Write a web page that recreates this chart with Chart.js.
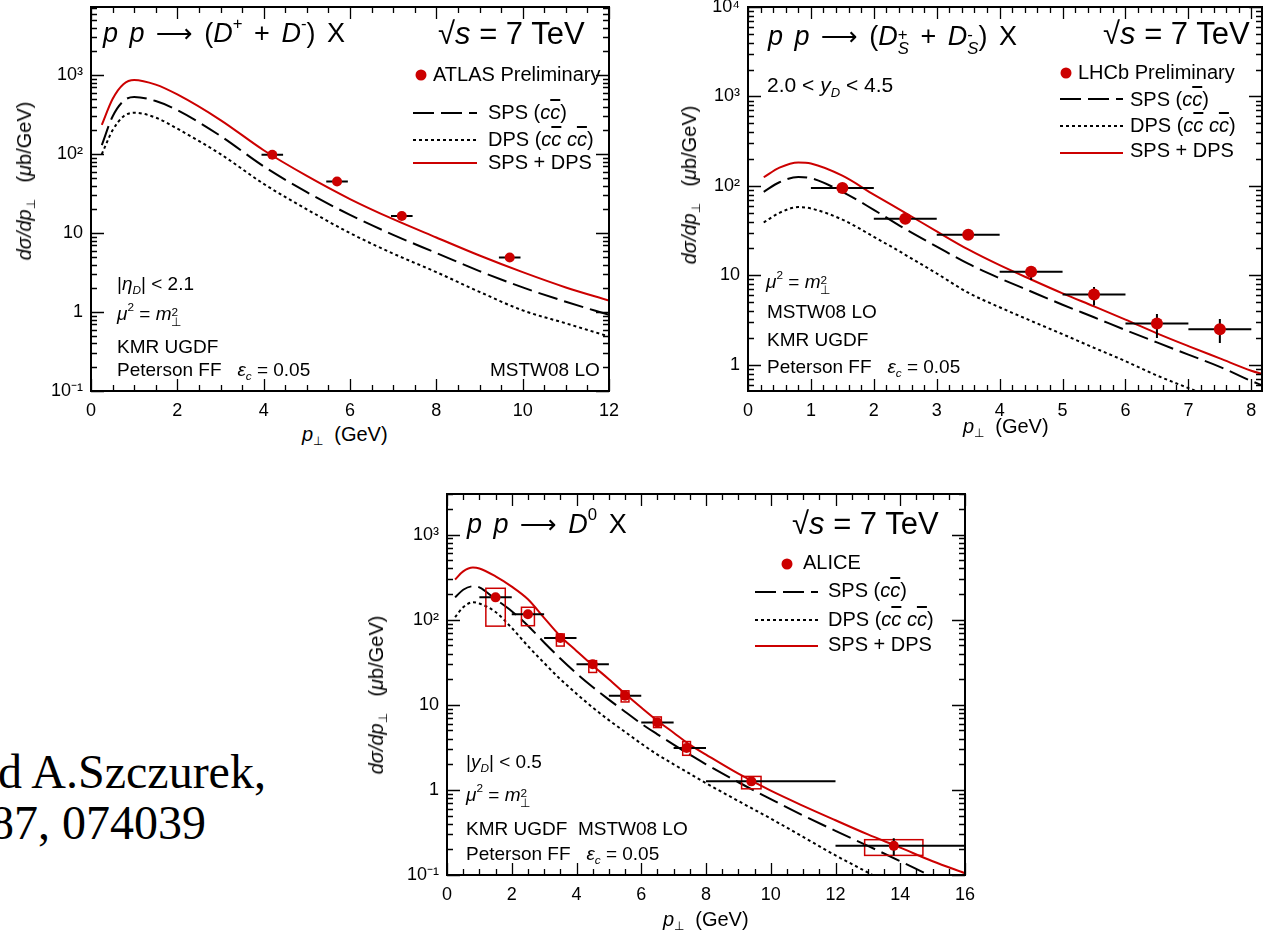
<!DOCTYPE html>
<html>
<head>
<meta charset="utf-8">
<script src="https://cdn.jsdelivr.net/npm/chart.js@4.4.1/dist/chart.umd.min.js"></script>
<style>
  body { margin: 0; background: #fff; width: 1268px; height: 940px; overflow: hidden; position: relative;
         font-family: "Liberation Sans", Arial, sans-serif; color: #000; }
  canvas { position: absolute; }
  .t { position: absolute; white-space: nowrap; line-height: 1; }
  .serif { font-family: "Liberation Serif", "Times New Roman", serif; font-size: 48px; }
  .ttl { font-size: 27px; word-spacing: 4px; }
  .arr { font-family: "DejaVu Sans", sans-serif; font-size: .95em; }
  .rs { font-size: 31px; }
  .lg { font-size: 20px; }
  .an { font-size: 19px; }
  .ax { font-size: 20px; }
  .yt { transform: translate(-50%, -50%) rotate(-90deg); font-size: 20px; }
  sup { font-size: .62em; vertical-align: .75em; line-height: 0; }
  sub { font-size: .62em; vertical-align: -.35em; line-height: 0; }
  .st { display: inline-block; font-size: .62em; line-height: .85; vertical-align: -.55em; }
  .st > span { display: block; }
  .ov { text-decoration: overline; }
  .dot { position: absolute; width: 11px; height: 11px; border-radius: 50%; background: #cc0000; transform: translate(-50%, -50%); }
  svg { position: absolute; }
</style>
</head>
<body>
<canvas id="cA" width="620" height="420" style="left:0;top:0"></canvas>
<canvas id="cL" width="608" height="420" style="left:660px;top:0"></canvas>
<canvas id="cC" width="620" height="460" style="left:360px;top:480px"></canvas>

<!-- panel 1: D+ + D- (ATLAS) -->
<div class="t ttl" style="left:103px;top:20px"><i>p p</i> <span class="arr">⟶</span> (<i>D</i><sup>+</sup> + <i>D</i><sup>-</sup>) X</div>
<div class="t rs" style="left:438px;top:18px">√<i>s</i> = 7 TeV</div>
<div class="dot" style="left:421px;top:75px"></div>
<div class="t lg" style="left:433px;top:64px">ATLAS Preliminary</div>
<svg style="left:413px;top:108px" width="64" height="10"><line x1="0" y1="5" x2="64" y2="5" stroke="#000" stroke-width="2" stroke-dasharray="21 7"/></svg>
<div class="t lg" style="left:488px;top:102px">SPS (<i>c<span class="ov">c</span></i>)</div>
<svg style="left:413px;top:135px" width="64" height="10"><line x1="0" y1="5" x2="64" y2="5" stroke="#000" stroke-width="2" stroke-dasharray="3 3"/></svg>
<div class="t lg" style="left:488px;top:129px">DPS (<i>c<span class="ov">c</span> c<span class="ov">c</span></i>)</div>
<svg style="left:413px;top:158px" width="64" height="10"><line x1="0" y1="5" x2="64" y2="5" stroke="#cc0000" stroke-width="2"/></svg>
<div class="t lg" style="left:488px;top:152px">SPS + DPS</div>
<div class="t an" style="left:117px;top:274px">|<i>η</i><sub><i>D</i></sub>| &lt; 2.1</div>
<div class="t an" style="left:117px;top:304px"><i>μ</i><sup>2</sup> = <i>m</i><span class="st"><span>2</span><span>⊥</span></span></div>
<div class="t an" style="left:117px;top:337px">KMR UGDF</div>
<div class="t an" style="left:117px;top:360px">Peterson FF &nbsp;&nbsp;<i>ε</i><sub><i>c</i></sub> = 0.05</div>
<div class="t an" style="left:490px;top:360px">MSTW08 LO</div>
<div class="t ax" style="left:302px;top:424px"><i>p</i><sub>⊥</sub>&nbsp; (GeV)</div>
<div class="t yt" style="left:24px;top:181px"><i>dσ/dp</i><sub>⊥</sub>&nbsp;&nbsp; (<i>μ</i>b/GeV)</div>

<!-- panel 2: Ds+ + Ds- (LHCb) -->
<div class="t ttl" style="left:768px;top:23px"><i>p p</i> <span class="arr">⟶</span> (<i>D</i><span class="st"><span>+</span><span><i>S</i></span></span> + <i>D</i><span class="st"><span>-</span><span><i>S</i></span></span>) X</div>
<div class="t rs" style="left:1103px;top:18px">√<i>s</i> = 7 TeV</div>
<div class="t" style="left:767px;top:74px;font-size:21px">2.0 &lt; <i>y</i><sub><i>D</i></sub> &lt; 4.5</div>
<div class="dot" style="left:1066px;top:73px"></div>
<div class="t lg" style="left:1078px;top:62px">LHCb Preliminary</div>
<svg style="left:1060px;top:94px" width="63" height="10"><line x1="0" y1="5" x2="63" y2="5" stroke="#000" stroke-width="2" stroke-dasharray="21 7"/></svg>
<div class="t lg" style="left:1130px;top:89px">SPS (<i>c<span class="ov">c</span></i>)</div>
<svg style="left:1060px;top:121px" width="63" height="10"><line x1="0" y1="5" x2="63" y2="5" stroke="#000" stroke-width="2" stroke-dasharray="3 3"/></svg>
<div class="t lg" style="left:1130px;top:115px">DPS (<i>c<span class="ov">c</span> c<span class="ov">c</span></i>)</div>
<svg style="left:1060px;top:148px" width="63" height="10"><line x1="0" y1="5" x2="63" y2="5" stroke="#cc0000" stroke-width="2"/></svg>
<div class="t lg" style="left:1130px;top:140px">SPS + DPS</div>
<div class="t an" style="left:766px;top:272px"><i>μ</i><sup>2</sup> = <i>m</i><span class="st"><span>2</span><span>⊥</span></span></div>
<div class="t an" style="left:767px;top:302px">MSTW08 LO</div>
<div class="t an" style="left:767px;top:330px">KMR UGDF</div>
<div class="t an" style="left:767px;top:357px">Peterson FF &nbsp;&nbsp;<i>ε</i><sub><i>c</i></sub> = 0.05</div>
<div class="t ax" style="left:963px;top:416px"><i>p</i><sub>⊥</sub>&nbsp; (GeV)</div>
<div class="t yt" style="left:689px;top:185px"><i>dσ/dp</i><sub>⊥</sub>&nbsp;&nbsp; (<i>μ</i>b/GeV)</div>

<!-- panel 3: D0 (ALICE) -->
<div class="t ttl" style="left:467px;top:511px"><i>p p</i> <span class="arr">⟶</span> <i>D</i><sup>0</sup> X</div>
<div class="t rs" style="left:792px;top:508px">√<i>s</i> = 7 TeV</div>
<div class="dot" style="left:787px;top:564px"></div>
<div class="t lg" style="left:803px;top:552px">ALICE</div>
<svg style="left:755px;top:587px" width="63" height="10"><line x1="0" y1="5" x2="63" y2="5" stroke="#000" stroke-width="2" stroke-dasharray="21 7"/></svg>
<div class="t lg" style="left:828px;top:580px">SPS (<i>c<span class="ov">c</span></i>)</div>
<svg style="left:755px;top:615px" width="63" height="10"><line x1="0" y1="5" x2="63" y2="5" stroke="#000" stroke-width="2" stroke-dasharray="3 3"/></svg>
<div class="t lg" style="left:828px;top:609px">DPS (<i>c<span class="ov">c</span> c<span class="ov">c</span></i>)</div>
<svg style="left:755px;top:641px" width="63" height="10"><line x1="0" y1="5" x2="63" y2="5" stroke="#cc0000" stroke-width="2"/></svg>
<div class="t lg" style="left:828px;top:634px">SPS + DPS</div>
<div class="t an" style="left:466px;top:752px">|<i>y</i><sub><i>D</i></sub>| &lt; 0.5</div>
<div class="t an" style="left:466px;top:785px"><i>μ</i><sup>2</sup> = <i>m</i><span class="st"><span>2</span><span>⊥</span></span></div>
<div class="t an" style="left:466px;top:819px">KMR UGDF &nbsp;MSTW08 LO</div>
<div class="t an" style="left:466px;top:844px">Peterson FF &nbsp;&nbsp;<i>ε</i><sub><i>c</i></sub> = 0.05</div>
<div class="t ax" style="left:663px;top:909px"><i>p</i><sub>⊥</sub>&nbsp; (GeV)</div>
<div class="t yt" style="left:376px;top:695px"><i>dσ/dp</i><sub>⊥</sub>&nbsp;&nbsp; (<i>μ</i>b/GeV)</div>

<!-- slide text cut at the left edge -->
<div class="t serif" style="left:-2px;top:748px">d A.Szczurek,</div>
<div class="t serif" style="left:-10px;top:799px">87, 074039</div>

<script>
// ---- panel 1: (D+ + D-), ATLAS, |eta| < 2.1 ----
const ptA  = [0.25, 0.5, 0.75, 1, 1.5, 2, 3, 4, 5, 6, 7, 8, 9, 10, 11, 12];
const sumA = [235, 500, 770, 870, 760, 570, 270, 112, 53, 27, 15, 8.8, 5.2, 3.2, 2.05, 1.4];
const spsA = [130, 300, 470, 530, 470, 360, 170, 70, 33, 17, 9.5, 5.6, 3.3, 2.05, 1.35, 0.92];
const dpsA = [100, 200, 300, 335, 290, 210, 100, 42, 20, 10, 5.5, 3.2, 1.8, 1.05, 0.72, 0.49];
const atlasX   = [4.2, 5.7, 7.2, 9.7];
const atlasY   = [98, 45, 16.5, 4.9];
const atlasXlo = [3.95, 5.45, 6.95, 9.45];
const atlasXhi = [4.45, 5.95, 7.45, 9.95];
const atlasYlo = [92, 43, 15.6, 4.6];
const atlasYhi = [104, 47, 17.4, 5.2];
const xTicksA = [0, 2, 4, 6, 8, 10, 12];
const yTicksA = [0.1, 1, 10, 100, 1000];
const yLabelsA = ['10⁻¹', '1', '10', '10²', '10³'];

// ---- panel 2: (Ds+ + Ds-), LHCb, 2.0 < y < 4.5 ----
const ptL  = [0.25, 0.5, 0.8, 1, 1.5, 2, 2.5, 3, 3.5, 4, 4.5, 5, 5.5, 6, 6.5, 7, 7.5, 8, 8.2];
const sumL = [125, 160, 183, 178, 130, 80, 50, 31, 19.5, 13, 9, 6.3, 4.5, 3.2, 2.25, 1.62, 1.18, 0.86, 0.78];
const spsL = [86, 110, 126, 122, 86, 54, 33, 21, 13.5, 9.3, 6.6, 4.7, 3.4, 2.45, 1.78, 1.3, 0.95, 0.66, 0.58];
const dpsL = [39, 50, 58, 56, 42, 27, 17, 10.5, 6.4, 4.4, 3.1, 2.2, 1.55, 1.1, 0.76, 0.55, 0.4, 0.28, 0.25];
const lhcbX   = [1.5, 2.5, 3.5, 4.5, 5.5, 6.5, 7.5];
const lhcbY   = [95, 43, 28.5, 11, 6.1, 2.9, 2.5];
const lhcbXlo = [1, 2, 3, 4, 5, 6, 7];
const lhcbXhi = [2, 3, 4, 5, 6, 7, 8];
const lhcbYlo = [91, 41, 27, 8.9, 4.6, 2.0, 1.76];
const lhcbYhi = [99, 45, 30, 12, 7.4, 3.7, 3.25];
const xTicksL = [0, 1, 2, 3, 4, 5, 6, 7, 8];
const yTicksL = [1, 10, 100, 1000, 10000];
const yLabelsL = ['1', '10', '10²', '10³', '10⁴'];

// ---- panel 3: D0, ALICE, |y| < 0.5 ----
const ptC  = [0.25, 0.5, 0.8, 1, 1.5, 2, 2.5, 3, 3.5, 4, 4.5, 5, 5.5, 6, 6.5, 7, 7.5, 8, 9, 10, 11, 12, 13, 14, 15, 16];
const sumC = [297, 370, 410, 400, 323, 245, 174, 105, 64, 43, 29, 20, 13.5, 9.3, 6.5, 4.7, 3.4, 2.6, 1.55, 0.98, 0.65, 0.44, 0.30, 0.21, 0.145, 0.105];
const spsC = [183, 225, 247, 240, 174, 126, 85, 54, 35, 23.4, 16.2, 11.5, 8.3, 6.0, 4.5, 3.4, 2.6, 2.0, 1.23, 0.78, 0.5, 0.33, 0.22, 0.145, 0.095, 0.063];
const dpsC = [107, 140, 160, 155, 123, 80, 49, 31, 20, 13.5, 9.3, 6.6, 4.8, 3.5, 2.6, 2.0, 1.55, 1.2, 0.74, 0.46, 0.28, 0.17, 0.107, 0.066, 0.042, 0.027];
const aliceX   = [1.5, 2.5, 3.5, 4.5, 5.5, 6.5, 7.4, 9.4, 13.8];
const aliceY   = [183, 116, 61, 30, 12.8, 6.2, 3.1, 1.26, 0.22];
const aliceXlo = [1, 2, 3, 4, 5, 6, 7, 8, 12];
const aliceXhi = [2, 3, 4, 5, 6, 7, 8, 12, 16];
const aliceYlo = [170, 110, 58, 28.5, 12.2, 5.9, 2.95, 1.2, 0.17];
const aliceYhi = [197, 122, 64, 31.5, 13.4, 6.5, 3.25, 1.32, 0.27];
const aliceSysDx = [0.3, 0.2, 0.12, 0.12, 0.12, 0.12, 0.12, 0.3, 0.9];
const aliceSysLo = [84, 85, 49, 24, 10.8, 5.4, 2.55, 1.03, 0.17];
const aliceSysHi = [234, 140, 68, 33, 14.6, 7.2, 3.7, 1.44, 0.26];
const xTicksC = [0, 2, 4, 6, 8, 10, 12, 14, 16];
const yTicksC = [0.1, 1, 10, 100, 1000];
const yLabelsC = ['10⁻¹', '1', '10', '10²', '10³'];

const RED = '#cc0000';
Chart.defaults.font.family = '"Liberation Sans", Arial, sans-serif';
Chart.defaults.color = '#000';

// error bars + systematic boxes, drawn right before the data-point dataset
const errBars = {
  id: 'errBars',
  beforeDatasetDraw(chart, args) {
    const e = chart.data.datasets[args.index].errs;
    if (!e) return;
    const { ctx, scales: { x, y } } = chart;
    ctx.save();
    if (e.sysDx) {
      ctx.strokeStyle = RED; ctx.lineWidth = 1.5;
      e.x.forEach((v, i) => {
        const x0 = x.getPixelForValue(v - e.sysDx[i]), x1 = x.getPixelForValue(v + e.sysDx[i]);
        const y0 = y.getPixelForValue(e.sysHi[i]), y1 = y.getPixelForValue(e.sysLo[i]);
        ctx.strokeRect(x0, y0, x1 - x0, y1 - y0);
      });
    }
    ctx.strokeStyle = '#000'; ctx.lineWidth = 2;
    ctx.beginPath();
    e.x.forEach((v, i) => {
      const py = y.getPixelForValue(e.y[i]), px = x.getPixelForValue(v);
      ctx.moveTo(x.getPixelForValue(e.xlo[i]), py); ctx.lineTo(x.getPixelForValue(e.xhi[i]), py);
      ctx.moveTo(px, y.getPixelForValue(e.ylo[i])); ctx.lineTo(px, y.getPixelForValue(e.yhi[i]));
    });
    ctx.stroke();
    ctx.restore();
  }
};

// ROOT-like frame with inward ticks on all four sides
const rootAxes = {
  id: 'rootAxes',
  afterDraw(chart, args, o) {
    const { ctx, chartArea: a, scales: { x, y } } = chart;
    ctx.save();
    ctx.strokeStyle = '#000';
    ctx.lineWidth = 1.3;
    ctx.beginPath();
    const n = Math.floor((x.max - x.min) / o.xMinor + 1e-6);
    for (let k = 0; k <= n; k++) {
      const v = x.min + k * o.xMinor;
      const px = Math.round(x.getPixelForValue(v)) + 0.5;
      const r = v / o.xMajor;
      const len = Math.abs(r - Math.round(r)) < 1e-6 ? 12 : 6;
      ctx.moveTo(px, a.bottom); ctx.lineTo(px, a.bottom - len);
      ctx.moveTo(px, a.top); ctx.lineTo(px, a.top + len);
    }
    for (let e = Math.floor(Math.log10(y.min)); e <= Math.ceil(Math.log10(y.max)); e++) {
      for (let m = 1; m <= 9; m++) {
        const v = m * Math.pow(10, e);
        if (v < y.min * 0.999 || v > y.max * 1.001) continue;
        const py = Math.round(y.getPixelForValue(v)) + 0.5;
        const len = m === 1 ? 13 : 6;
        ctx.moveTo(a.left, py); ctx.lineTo(a.left + len, py);
        ctx.moveTo(a.right, py); ctx.lineTo(a.right - len, py);
      }
    }
    ctx.stroke();
    ctx.lineWidth = 2;
    ctx.strokeRect(a.left, a.top, a.right - a.left, a.bottom - a.top);
    ctx.restore();
  }
};

function curveSets(pt, sum, sps, dps) {
  const pts = (arr) => pt.map((x, i) => ({ x, y: arr[i] }));
  return [
    { type: 'line', data: pts(sum), borderColor: RED, borderWidth: 2, pointRadius: 0, cubicInterpolationMode: 'monotone' },
    { type: 'line', data: pts(sps), borderColor: '#000', borderWidth: 2, borderDash: [20, 7], pointRadius: 0, cubicInterpolationMode: 'monotone' },
    { type: 'line', data: pts(dps), borderColor: '#000', borderWidth: 2, borderDash: [3, 3], pointRadius: 0, cubicInterpolationMode: 'monotone' },
  ];
}

function dataSet(xs, ys, errs, r) {
  return { type: 'scatter', data: xs.map((x, i) => ({ x, y: ys[i] })), pointRadius: r,
           backgroundColor: RED, borderColor: RED, borderWidth: 0, errs };
}

// fixed axis sizes, no automatic label padding, so the frame lands where the reference has it
const noPad = (s) => { s.paddingLeft = 0; s.paddingRight = 0; s.paddingTop = 0; s.paddingBottom = 0; };

function makeChart(id, p) {
  return new Chart(document.getElementById(id), {
    data: { datasets: [p.points, ...p.curves] },
    plugins: [errBars, rootAxes],
    options: {
      responsive: false, animation: false, events: [],
      layout: { padding: p.pad },
      plugins: { legend: { display: false }, tooltip: { enabled: false },
                 rootAxes: { xMajor: p.xMajor, xMinor: p.xMinor } },
      scales: {
        x: { type: 'linear', min: p.xMin, max: p.xMax,
             grid: { display: false, drawTicks: false }, border: { display: false },
             ticks: { font: { size: 18 }, padding: 9, maxRotation: 0, autoSkip: false },
             afterBuildTicks: (s) => { s.ticks = p.xTicks.map((v) => ({ value: v })); },
             afterFit: (s) => { s.height = p.xH; noPad(s); } },
        y: { type: 'logarithmic', min: p.yMin, max: p.yMax,
             grid: { display: false, drawTicks: false }, border: { display: false },
             ticks: { font: { size: 18 }, padding: 8, autoSkip: false,
                      callback: (v, i) => p.yLabels[i] },
             afterBuildTicks: (s) => { s.ticks = p.yTicks.map((v) => ({ value: v })); },
             afterFit: (s) => { s.width = p.yW; noPad(s); } },
      },
    },
  });
}

makeChart('cA', {
  points: dataSet(atlasX, atlasY, { x: atlasX, y: atlasY, xlo: atlasXlo, xhi: atlasXhi, ylo: atlasYlo, yhi: atlasYhi }, 5),
  curves: curveSets(ptA, sumA, spsA, dpsA),
  pad: { left: 0, top: 7, right: 11, bottom: 0 }, yW: 91, xH: 29,
  xMin: 0, xMax: 12, xMajor: 2, xMinor: 0.5, xTicks: xTicksA,
  yMin: 0.1, yMax: 7300, yTicks: yTicksA, yLabels: yLabelsA,
});

makeChart('cL', {
  points: dataSet(lhcbX, lhcbY, { x: lhcbX, y: lhcbY, xlo: lhcbXlo, xhi: lhcbXhi, ylo: lhcbYlo, yhi: lhcbYhi }, 6),
  curves: curveSets(ptL, sumL, spsL, dpsL),
  pad: { left: 0, top: 7, right: 2, bottom: 0 }, yW: 88, xH: 29,
  xMin: 0, xMax: 8.17, xMajor: 1, xMinor: 0.2, xTicks: xTicksL,
  yMin: 0.51, yMax: 10000, yTicks: yTicksL, yLabels: yLabelsL,
});

makeChart('cC', {
  points: dataSet(aliceX, aliceY, { x: aliceX, y: aliceY, xlo: aliceXlo, xhi: aliceXhi, ylo: aliceYlo, yhi: aliceYhi,
                                   sysDx: aliceSysDx, sysLo: aliceSysLo, sysHi: aliceSysHi }, 5),
  curves: curveSets(ptC, sumC, spsC, dpsC),
  pad: { left: 0, top: 14, right: 15, bottom: 0 }, yW: 87, xH: 65,
  xMin: 0, xMax: 16, xMajor: 2, xMinor: 0.5, xTicks: xTicksC,
  yMin: 0.1, yMax: 3000, yTicks: yTicksC, yLabels: yLabelsC,
});
</script>
</body>
</html>
